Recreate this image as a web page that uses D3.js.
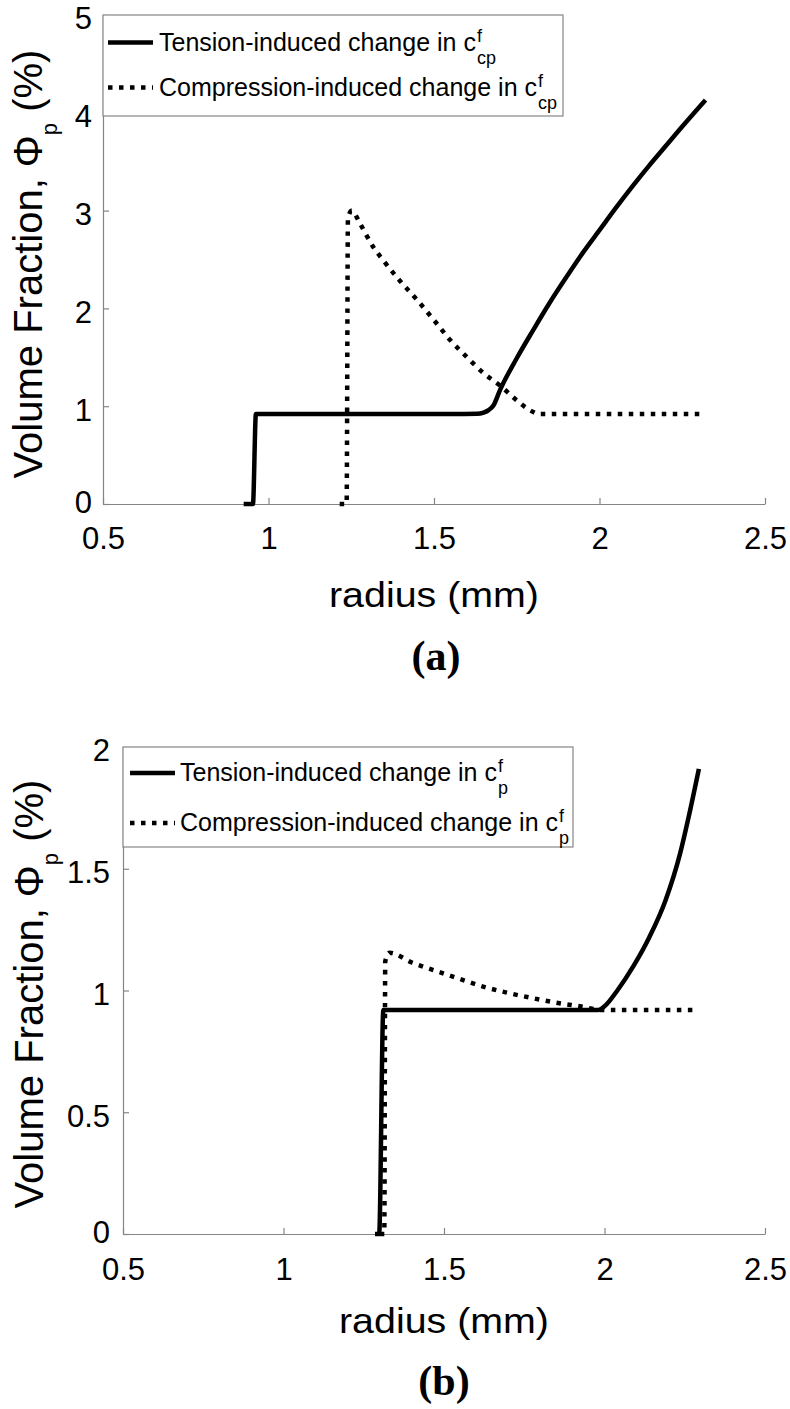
<!DOCTYPE html>
<html>
<head>
<meta charset="utf-8">
<script src="https://cdn.jsdelivr.net/npm/d3@7"></script>
<style>
  html, body { margin: 0; padding: 0; background: #fff; }
  svg { display: block; }
  text { font-family: "Liberation Sans", Arial, Helvetica, sans-serif; fill: #000; }
</style>
</head>
<body>
<svg id="chart" width="790" height="1409"></svg>
<script>
// ---------- data ----------
const xTicks = [0.5, 1, 1.5, 2, 2.5];
const yTicksA = [0, 1, 2, 3, 4, 5];
const yTicksB = [0, 0.5, 1, 1.5, 2];

// Panel (a)
const tensionA_x = [0.925, 0.953, 0.962, 1.2, 1.5, 1.63, 1.65, 1.665, 1.68, 1.70, 1.75, 1.80, 1.85, 1.90, 1.95, 2.00, 2.05, 2.10, 2.15, 2.20, 2.25, 2.32];
const tensionA_y = [0, 0, 0.92, 0.92, 0.92, 0.922, 0.935, 0.96, 1.01, 1.17, 1.49, 1.78, 2.06, 2.32, 2.57, 2.80, 3.03, 3.25, 3.46, 3.66, 3.86, 4.13];
const compressionA_x = [1.215, 1.236, 1.240, 1.252, 1.276, 1.316, 1.347, 1.40, 1.448, 1.50, 1.548, 1.60, 1.649, 1.70, 1.75, 1.78, 1.80, 1.815, 2.32];
const compressionA_y = [0, 0, 2.92, 3.00, 2.87, 2.63, 2.49, 2.27, 2.09, 1.88, 1.68, 1.50, 1.34, 1.21, 1.06, 0.98, 0.94, 0.92, 0.92];

// Panel (b)
const tensionB_x = [1.285, 1.298, 1.311, 1.6, 1.9, 1.98, 2.00, 2.04, 2.09, 2.14, 2.19, 2.235, 2.26, 2.294];
const tensionB_y = [0, 0, 0.92, 0.92, 0.92, 0.92, 0.935, 1.00, 1.10, 1.22, 1.37, 1.56, 1.70, 1.91];
const compressionB_x = [1.300, 1.314, 1.317, 1.330, 1.40, 1.467, 1.55, 1.622, 1.70, 1.778, 1.85, 1.933, 1.99, 2.29];
const compressionB_y = [0, 0, 1.12, 1.155, 1.115, 1.084, 1.047, 1.016, 0.99, 0.968, 0.95, 0.933, 0.92, 0.92];

const legendMain = ["Tension-induced change in c", "Compression-induced change in c"];
const legendSup = "f";
const legendSubA = "cp";
const legendSubB = "p";
const xLabel = "radius (mm)";
const yLabelMain = "Volume Fraction, Φ";
const yLabelSub = "p";
const yLabelEnd = " (%)";
const panelLabels = ["(a)", "(b)"];

// ---------- layout ----------
const svg = d3.select("#chart");
const axisColor = "#858585";

const panels = [
  {
    left: 103, right: 765, top: 15, bottom: 504,
    yDomain: [0, 5], yTicks: yTicksA,
    series: [
      { x: tensionA_x, y: tensionA_y, dashed: false },
      { x: compressionA_x, y: compressionA_y, dashed: true }
    ],
    sub: legendSubA,
    legend: { x0: 103, y0: 15, x1: 563, y1: 116, lineX0: 108, lineX1: 153, textX: 159, rows: [42.5, 87.5], baselines: [51, 96] },
    xTickPad: 23, yTickPad: 11,
    xLabelCx: 434, xLabelBase: 607,
    yLabelX: 42, yLabelCy: 264,
    panelLabelCx: 436, panelLabelBase: 670,
    panelLabel: panelLabels[0]
  },
  {
    left: 123, right: 765, top: 747, bottom: 1234,
    yDomain: [0, 2], yTicks: yTicksB,
    series: [
      { x: tensionB_x, y: tensionB_y, dashed: false },
      { x: compressionB_x, y: compressionB_y, dashed: true }
    ],
    sub: legendSubB,
    legend: { x0: 123, y0: 747, x1: 573, y1: 847, lineX0: 130, lineX1: 175, textX: 180, rows: [773, 823], baselines: [781, 831] },
    xTickPad: 24, yTickPad: 13,
    xLabelCx: 444, xLabelBase: 1333,
    yLabelX: 43, yLabelCy: 994,
    panelLabelCx: 444, panelLabelBase: 1395,
    panelLabel: panelLabels[1]
  }
];

panels.forEach(p => {
  const x = d3.scaleLinear().domain([0.5, 2.5]).range([p.left, p.right]);
  const y = d3.scaleLinear().domain(p.yDomain).range([p.bottom, p.top]);
  const g = svg.append("g");

  // axes
  const xAxis = d3.axisBottom(x).tickValues(xTicks).tickSizeInner(-6).tickSizeOuter(0)
    .tickPadding(p.xTickPad).tickFormat(d3.format(""));
  const gx = g.append("g").attr("transform", `translate(0,${p.bottom})`).call(xAxis);
  const yAxis = d3.axisLeft(y).tickValues(p.yTicks).tickSizeInner(-6).tickSizeOuter(0)
    .tickPadding(p.yTickPad).tickFormat(d3.format(""));
  const gy = g.append("g").attr("transform", `translate(${p.left},0)`).call(yAxis);
  [gx, gy].forEach(a => {
    a.select(".domain").attr("stroke", axisColor).attr("stroke-width", 1.2);
    a.selectAll(".tick line").attr("stroke", axisColor).attr("stroke-width", 1.2);
    a.selectAll(".tick text").attr("font-size", 31).attr("fill", "#000")
      .attr("font-family", "'Liberation Sans', Arial, Helvetica, sans-serif");
  });
  gx.selectAll(".tick text").attr("dy", "0.71em");
  gy.selectAll(".tick text").attr("dy", d => d === 0 ? "0.28em" : "0.45em");

  // lines
  const line = d3.line().x(d => x(d[0])).y(d => y(d[1])).curve(d3.curveMonotoneX);
  p.series.forEach(s => {
    const pts = s.x.map((v, i) => [v, s.y[i]]);
    g.append("path").datum(pts)
      .attr("d", line)
      .attr("fill", "none")
      .attr("stroke", "#000")
      .attr("stroke-width", 4.5)
      .attr("stroke-dasharray", s.dashed ? "4.5,6.5" : null)
      .attr("stroke-linejoin", "miter");
  });

  // legend
  const L = p.legend;
  g.append("rect").attr("x", L.x0).attr("y", L.y0)
    .attr("width", L.x1 - L.x0).attr("height", L.y1 - L.y0)
    .attr("fill", "#fff").attr("stroke", axisColor).attr("stroke-width", 1.2);
  legendMain.forEach((label, i) => {
    g.append("line").attr("x1", L.lineX0).attr("x2", L.lineX1)
      .attr("y1", L.rows[i]).attr("y2", L.rows[i])
      .attr("stroke", "#000").attr("stroke-width", 4.5)
      .attr("stroke-dasharray", i === 1 ? "4.5,6.5" : null);
    const t = g.append("text").attr("x", L.textX).attr("y", L.baselines[i])
      .attr("font-size", 25).text(label);
    const w = t.node().getComputedTextLength();
    g.append("text").attr("x", L.textX + w + 1).attr("y", L.baselines[i] - 9)
      .attr("font-size", 18).text(legendSup);
    g.append("text").attr("x", L.textX + w + 1).attr("y", L.baselines[i] + 13)
      .attr("font-size", 18).text(p.sub);
  });

  // x label
  g.append("text").attr("x", p.xLabelCx).attr("y", p.xLabelBase)
    .attr("text-anchor", "middle").attr("font-size", 35)
    .attr("textLength", 210).attr("lengthAdjust", "spacingAndGlyphs")
    .text(xLabel);

  // y label
  const yl = g.append("text")
    .attr("transform", `translate(${p.yLabelX},${p.yLabelCy}) rotate(-90)`)
    .attr("text-anchor", "middle").attr("font-size", 40);
  yl.append("tspan").text(yLabelMain);
  yl.append("tspan").attr("font-size", 22).attr("dy", 15).text(yLabelSub);
  yl.append("tspan").attr("dy", -15).text(yLabelEnd);

  // panel label
  g.append("text").attr("x", p.panelLabelCx).attr("y", p.panelLabelBase)
    .attr("text-anchor", "middle").attr("font-size", 42).attr("font-weight", "bold")
    .style("font-family", "'Liberation Serif', 'Times New Roman', serif")
    .text(p.panelLabel);
});
</script>
</body>
</html>
